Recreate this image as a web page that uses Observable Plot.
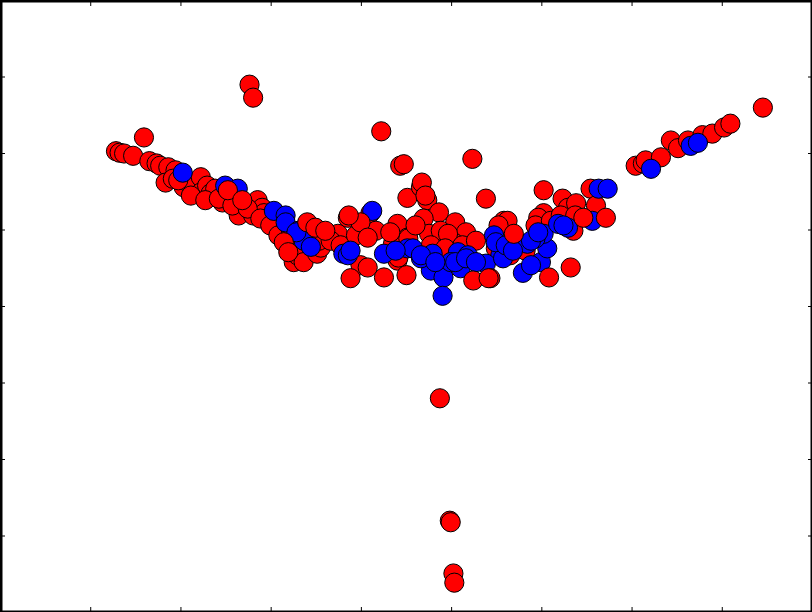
<!DOCTYPE html>
<html>
<head>
<meta charset="utf-8">
<script src="https://cdn.jsdelivr.net/npm/d3@7"></script>
<script src="https://cdn.jsdelivr.net/npm/@observablehq/plot@0.6"></script>
<style>
  html, body { margin: 0; padding: 0; background: #fff; }
  #chart { width: 812px; height: 612px; overflow: hidden; }
</style>
</head>
<body>
<div id="chart"></div>
<script>
// Red points drawn first (underneath)
const redX = [1.28,1.32,1.37,1.59,1.47,1.65,1.73,1.77,1.86,1.94,1.83,1.91,2.03,2.08,2.14,2.22,2.22,2.29,2.33,2.38,2.46,2.64,2.80,2.85,2.90,2.92,3.25,3.29,3.36,3.33,3.51,3.55,3.63,3.74,3.85,4.10,3.99,4.40,4.51,4.40,4.35,4.41,4.51,4.66,4.73,4.67,4.71,4.86,4.69,5.04,5.16,4.75,4.88,4.52,5.02,4.96,5.58,5.38,5.23,4.43,4.47,4.22,5.62,5.52,6.02,6.02,6.04,6.18,6.23,6.29,6.38,6.54,6.35,5.96,7.04,7.12,7.15,7.32,7.43,7.51,7.62,7.78,7.89,8.02,8.09,8.45,2.76,2.80,4.87,4.98,4.99,5.02,5.03,
  1.97,2.11,2.27,2.42,2.57,2.74,2.88,2.99,3.08,3.22,3.38,3.53,3.66,3.77,3.94,4.16,4.32,4.60,4.77,4.93,5.12,5.27,5.49,5.65,5.82,5.93,6.10,6.21,6.37,6.60];
const redY = [6.03,6.01,6.00,6.21,5.97,5.90,5.87,5.84,5.82,5.78,5.62,5.67,5.56,5.62,5.58,5.69,5.49,5.58,5.48,5.54,5.36,5.19,5.19,5.39,5.29,5.22,4.58,4.67,4.58,4.89,4.69,4.77,4.95,4.95,5.16,5.22,4.54,5.08,4.90,4.60,4.82,4.64,5.42,5.56,5.39,5.62,5.45,5.23,5.15,5.10,4.97,4.95,4.99,4.89,4.84,4.95,5.12,5.41,5.93,5.84,5.86,6.29,5.12,5.06,5.52,5.22,5.06,5.12,5.41,5.29,5.35,5.54,4.99,5.16,5.84,5.87,5.91,5.95,6.17,6.07,6.17,6.24,6.26,6.34,6.39,6.60,6.90,6.73,2.80,1.20,1.18,0.51,0.39,
  5.65,5.45,5.39,5.41,5.32,5.28,5.15,5.06,4.93,4.99,4.97,4.86,4.86,4.80,4.93,4.99,4.97,5.06,4.80,4.76,4.80,4.86,4.76,4.67,4.73,5.06,5.12,5.19,5.19,5.32];

// Blue points
const blueX = [2.02,2.49,2.63,3.03,3.16,3.16,3.30,3.36,3.44,3.80,3.85,4.12,4.25,4.51,4.57,4.79,5.07,5.18,5.47,5.54,5.38,4.77,4.91,5.10,4.90,4.66,4.99,5.73,5.84,5.57,5.79,5.99,6.06,6.02,6.18,6.29,6.56,6.63,6.73,6.24,5.93,7.21,7.65,7.73,
  3.28,5.04,5.16,5.27,5.49,5.60,5.68,5.88,5.96,5.88,4.66,4.82,4.38,3.88];
const blueY = [5.75,5.58,5.54,5.25,5.19,5.10,4.99,4.86,4.78,4.69,4.67,5.25,4.69,4.76,4.76,4.69,4.71,4.67,4.93,4.67,4.56,4.47,4.38,4.50,4.14,4.63,4.58,4.84,4.82,4.63,4.44,4.58,4.76,4.95,5.08,5.03,5.12,5.54,5.54,5.06,4.89,5.80,6.10,6.14,
  4.97,4.58,4.63,4.58,4.84,4.80,4.73,4.86,4.97,4.54,4.67,4.58,4.73,4.73];

// Red points drawn last (on top)
const topRedX = [2.52,2.68,3.40,3.49,3.60,3.14,3.19,3.88,4.07,4.25,4.50,5.24,5.43,6.08,6.32,5.41,6.46,6.71,5.69,3.99,4.07,3.86];
const topRedY = [5.52,5.39,5.10,5.03,4.99,4.84,4.71,4.37,4.51,4.38,4.41,4.34,4.37,4.38,4.51,4.37,5.16,5.16,4.95,5.10,4.90,5.19];

const xTicks = [1, 2, 3, 4, 5, 6, 7, 8];
const yTicks = [1, 2, 3, 4, 5, 6, 7];

const rows = [
  ...redX.map((x, i) => ({x, y: redY[i], g: "red"})),
  ...blueX.map((x, i) => ({x, y: blueY[i], g: "blue"})),
  ...topRedX.map((x, i) => ({x, y: topRedY[i], g: "red"}))
];

const noText = () => "";
const chart = Plot.plot({
  width: 812,
  height: 612,
  margin: 0,
  style: {background: "#fff", overflow: "hidden"},
  x: {domain: [0, 9]},
  y: {domain: [0, 8]},
  color: {domain: ["red", "blue"], range: ["#ff0000", "#0000ff"]},
  marks: [
    Plot.dot(rows, {x: "x", y: "y", fill: "g", r: 9.6, stroke: "#000", strokeWidth: 1, fillOpacity: 1}),
    Plot.axisX(xTicks, {anchor: "bottom", tickSize: -5, tickFormat: noText, label: null, strokeWidth: 1}),
    Plot.axisX(xTicks, {anchor: "top", tickSize: -5, tickFormat: noText, label: null, strokeWidth: 1}),
    Plot.axisY(yTicks, {anchor: "left", tickSize: -5, tickFormat: noText, label: null, strokeWidth: 1}),
    Plot.axisY(yTicks, {anchor: "right", tickSize: -5, tickFormat: noText, label: null, strokeWidth: 1}),
    Plot.frame({stroke: "#000", strokeWidth: 4})
  ]
});
document.getElementById("chart").appendChild(chart);
</script>
</body>
</html>
